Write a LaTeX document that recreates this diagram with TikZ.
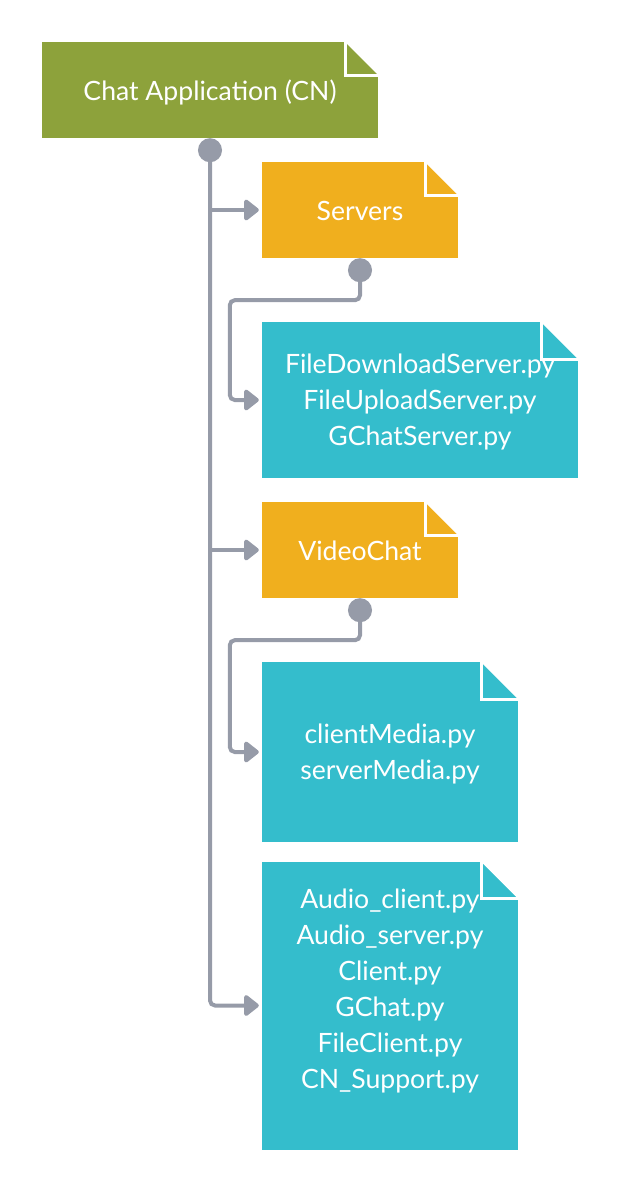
\documentclass[tikz,border=0pt]{standalone}
\usepackage{fontspec}
\setmainfont{Lato}
\usetikzlibrary{arrows.meta}
\definecolor{appgreen}{RGB}{141,162,59}
\definecolor{fldorange}{RGB}{240,175,30}
\definecolor{filecyan}{RGB}{52,189,204}
\definecolor{conngrey}{RGB}{150,155,168}
\tikzset{
  foldsize/.store in=\foldsz, foldsize=33pt,
  notebox/.style={fill=#1, inner sep=0pt,
    path picture={
      \fill[white] ([xshift=-\foldsz]path picture bounding box.north east)
        -- (path picture bounding box.north east)
        -- ([yshift=-\foldsz]path picture bounding box.north east) -- cycle;
      \draw[white, line width=3pt] ([xshift=-\foldsz]path picture bounding box.north east)
        -- ([xshift=-\foldsz,yshift=-\foldsz]path picture bounding box.north east)
        -- ([yshift=-\foldsz]path picture bounding box.north east);
    }},
  boxtext/.style={text=white, inner sep=0pt, align=center,
    font=\fontsize{26.6}{36}\selectfont, yshift=-2pt},
  conn/.style={draw=conngrey, line width=4pt, rounded corners=5pt, shorten >=3pt,
    -{Triangle[length=16pt,width=24pt,round,fill=conngrey]}},
  dotstart/.style={{Circle[length=24pt,fill=conngrey]}-{Triangle[length=16pt,width=24pt,round,fill=conngrey]}}
}
\begin{document}
\begin{tikzpicture}[x=1pt,y=-1pt]
\useasboundingbox (0,0) rectangle (620,1192);
\node[notebox=appgreen, minimum width=336pt, minimum height=96pt,
  label={[boxtext, name=appt]center:Chat Application (CN)}] (app) at (210,90) {};
\node[notebox=fldorange, minimum width=196pt, minimum height=96pt,
  label={[boxtext, name=serverst, yshift=1pt]center:Servers}] (servers) at (360,210) {};
\node[notebox=filecyan, foldsize=37pt, minimum width=316pt, minimum height=156pt,
  label={[boxtext, name=f1t]center:{FileDownloadServer.py\\FileUploadServer.py\\GChatServer.py}}] (f1) at (420,400) {};
\node[notebox=fldorange, minimum width=196pt, minimum height=96pt,
  label={[boxtext, name=videot, yshift=1pt]center:VideoChat}] (video) at (360,550) {};
\node[notebox=filecyan, foldsize=37pt, minimum width=256pt, minimum height=180pt,
  label={[boxtext, name=f2t]center:{clientMedia.py\\serverMedia.py}}] (f2) at (390,752) {};
\node[notebox=filecyan, foldsize=37pt, minimum width=256pt, minimum height=288pt,
  label={[boxtext, name=f3t, yshift=17pt]center:{Audio\_client.py\\Audio\_server.py\\Client.py\\GChat.py\\FileClient.py\\CN\_Support.py}}] (f3) at (390,1005.5) {};
% trunk
\draw[conn, dotstart] (app.south) -- (app.south |- f3.west) -- (f3.west);
\draw[conn] (app.south |- servers.west) -- (servers.west);
\draw[conn] (app.south |- video.west) -- (video.west);
% sub-branches
\draw[conn, dotstart] (servers.south) -- ++(0,42) -| ([xshift=-32pt]f1.west) -- (f1.west);
\draw[conn, dotstart] (video.south) -- ++(0,42) -| ([xshift=-32pt]f2.west) -- (f2.west);
\end{tikzpicture}
\end{document}
